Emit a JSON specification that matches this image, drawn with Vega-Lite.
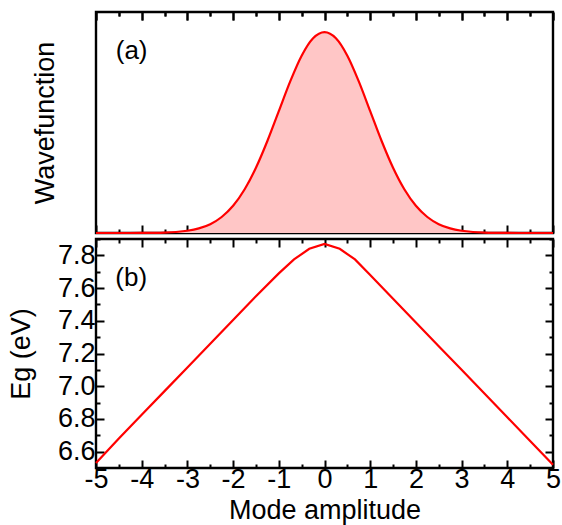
{
  "$schema": "https://vega.github.io/schema/vega-lite/v6.json",
  "padding": {"left": 6, "top": 9, "right": 0, "bottom": 0},
  "spacing": 6,
  "bounds": "flush",
  "config": {
    "view": {"stroke": "black", "strokeWidth": 2.4},
    "font": "Liberation Sans",
    "axis": {
      "domain": false,
      "grid": false,
      "tickColor": "black",
      "tickWidth": 2,
      "labelColor": "black",
      "titleColor": "black",
      "labelFont": "Liberation Sans",
      "titleFont": "Liberation Sans",
      "titleFontWeight": "normal",
      "labelFlush": false,
      "labelOverlap": false
    }
  },
  "datasets": {
    "wave": [
      {"x": -5, "psi": 0.0},
      {"x": -4.5, "psi": 0.00004},
      {"x": -4, "psi": 0.0003},
      {"x": -3.75, "psi": 0.0009},
      {"x": -3.5, "psi": 0.0022},
      {"x": -3.25, "psi": 0.0051},
      {"x": -3, "psi": 0.0111},
      {"x": -2.75, "psi": 0.0228},
      {"x": -2.5, "psi": 0.0439},
      {"x": -2.25, "psi": 0.0796},
      {"x": -2, "psi": 0.1353},
      {"x": -1.75, "psi": 0.2163},
      {"x": -1.5, "psi": 0.3247},
      {"x": -1.25, "psi": 0.4578},
      {"x": -1, "psi": 0.6065},
      {"x": -0.75, "psi": 0.7548},
      {"x": -0.5, "psi": 0.8825},
      {"x": -0.25, "psi": 0.9692},
      {"x": 0, "psi": 1.0},
      {"x": 0.25, "psi": 0.9692},
      {"x": 0.5, "psi": 0.8825},
      {"x": 0.75, "psi": 0.7548},
      {"x": 1, "psi": 0.6065},
      {"x": 1.25, "psi": 0.4578},
      {"x": 1.5, "psi": 0.3247},
      {"x": 1.75, "psi": 0.2163},
      {"x": 2, "psi": 0.1353},
      {"x": 2.25, "psi": 0.0796},
      {"x": 2.5, "psi": 0.0439},
      {"x": 2.75, "psi": 0.0228},
      {"x": 3, "psi": 0.0111},
      {"x": 3.25, "psi": 0.0051},
      {"x": 3.5, "psi": 0.0022},
      {"x": 3.75, "psi": 0.0009},
      {"x": 4, "psi": 0.0003},
      {"x": 4.5, "psi": 0.00004},
      {"x": 5, "psi": 0.0}
    ],
    "eg": [
      {"x": -5, "E": 6.53},
      {"x": -4.5, "E": 6.68},
      {"x": -4, "E": 6.825},
      {"x": -3.5, "E": 6.97},
      {"x": -3, "E": 7.115},
      {"x": -2.5, "E": 7.26},
      {"x": -2, "E": 7.405},
      {"x": -1.5, "E": 7.55},
      {"x": -1, "E": 7.69},
      {"x": -0.667, "E": 7.775},
      {"x": -0.333, "E": 7.84},
      {"x": 0, "E": 7.87},
      {"x": 0.333, "E": 7.84},
      {"x": 0.667, "E": 7.775},
      {"x": 1, "E": 7.68},
      {"x": 1.5, "E": 7.535},
      {"x": 2, "E": 7.39},
      {"x": 2.5, "E": 7.245},
      {"x": 3, "E": 7.1},
      {"x": 3.5, "E": 6.955},
      {"x": 4, "E": 6.81},
      {"x": 4.5, "E": 6.665},
      {"x": 5, "E": 6.52}
    ],
    "labels": [
      {"panel": "a", "x": -4.22, "y": 0.905, "label": "(a)"},
      {"panel": "b", "x": -4.23, "y": 7.66, "label": "(b)"}
    ]
  },
  "vconcat": [
    {
      "width": 457,
      "height": 221,
      "layer": [
        {
          "data": {"name": "wave"},
          "mark": {"type": "area", "color": "#ffc6c6", "interpolate": "monotone"},
          "encoding": {
            "x": {
              "field": "x", "type": "quantitative",
              "scale": {"domain": [-5, 5], "nice": false, "zero": false},
              "axis": {
                "orient": "bottom", "title": null, "labels": false,
                "values": [-5, -4.5, -4, -3.5, -3, -2.5, -2, -1.5, -1, -0.5, 0, 0.5, 1, 1.5, 2, 2.5, 3, 3.5, 4, 4.5, 5],
                "tickSize": {"condition": {"test": "datum.value % 1 === 0", "value": -8}, "value": -4}
              }
            },
            "y": {
              "field": "psi", "type": "quantitative",
              "scale": {"domain": [0, 1.1], "nice": false},
              "axis": {"title": "Wavefunction", "ticks": false, "labels": false, "titleFontSize": 27, "titlePadding": 37}
            }
          }
        },
        {
          "data": {"name": "wave"},
          "mark": {"type": "line", "color": "#ff0000", "strokeWidth": 2.2, "interpolate": "monotone"},
          "encoding": {
            "x": {
              "field": "x", "type": "quantitative",
              "axis": {
                "orient": "top", "title": null, "labels": false,
                "values": [-5, -4.5, -4, -3.5, -3, -2.5, -2, -1.5, -1, -0.5, 0, 0.5, 1, 1.5, 2, 2.5, 3, 3.5, 4, 4.5, 5],
                "tickSize": {"condition": {"test": "datum.value % 1 === 0", "value": -8}, "value": -4}
              }
            },
            "y": {
              "field": "psi", "type": "quantitative",
              "axis": {"title": "Wavefunction", "ticks": false, "labels": false, "titleFontSize": 27, "titlePadding": 37}
            }
          }
        },
        {
          "data": {"name": "labels"},
          "transform": [{"filter": "datum.panel === 'a'"}],
          "mark": {"type": "text", "fontSize": 26, "font": "Liberation Sans", "color": "black"},
          "encoding": {
            "x": {
              "field": "x", "type": "quantitative",
              "axis": {
                "orient": "top", "title": null, "labels": false,
                "values": [-5, -4.5, -4, -3.5, -3, -2.5, -2, -1.5, -1, -0.5, 0, 0.5, 1, 1.5, 2, 2.5, 3, 3.5, 4, 4.5, 5],
                "tickSize": {"condition": {"test": "datum.value % 1 === 0", "value": -8}, "value": -4}
              }
            },
            "y": {
              "field": "y", "type": "quantitative",
              "axis": {"title": "Wavefunction", "ticks": false, "labels": false, "titleFontSize": 27, "titlePadding": 37}
            },
            "text": {"field": "label"}
          }
        }
      ]
    },
    {
      "width": 457,
      "height": 229,
      "layer": [
        {
          "data": {"name": "eg"},
          "mark": {"type": "line", "color": "#ff0000", "strokeWidth": 2.2},
          "encoding": {
            "x": {
              "field": "x", "type": "quantitative",
              "scale": {"domain": [-5, 5], "nice": false, "zero": false},
              "axis": {
                "orient": "bottom", "title": "Mode amplitude", "titleFontSize": 27, "titlePadding": 1,
                "labelFontSize": 27, "labelPadding": 6,
                "values": [-5, -4.5, -4, -3.5, -3, -2.5, -2, -1.5, -1, -0.5, 0, 0.5, 1, 1.5, 2, 2.5, 3, 3.5, 4, 4.5, 5],
                "labelExpr": "datum.value % 1 === 0 ? (datum.value < 0 ? '-' + abs(datum.value) : '' + datum.value) : ''",
                "tickSize": {"condition": {"test": "datum.value % 1 === 0", "value": -8}, "value": -4}
              }
            },
            "y": {
              "field": "E", "type": "quantitative",
              "scale": {"domain": [6.5, 7.9], "nice": false, "zero": false},
              "axis": {
                "orient": "left", "title": "Eg (eV)", "titleFontSize": 27, "titlePadding": 22,
                "labelFontSize": 27, "labelPadding": 9,
                "values": [6.5, 6.6, 6.7, 6.8, 6.9, 7.0, 7.1, 7.2, 7.3, 7.4, 7.5, 7.6, 7.7, 7.8, 7.9],
                "labelExpr": "round(datum.value * 10) % 2 === 0 ? format(datum.value, '.1f') : ''",
                "tickSize": {"condition": {"test": "round(datum.value * 10) % 2 === 0", "value": -8}, "value": -4}
              }
            }
          }
        },
        {
          "data": {"name": "labels"},
          "transform": [{"filter": "datum.panel === 'b'"}],
          "mark": {"type": "text", "fontSize": 26, "font": "Liberation Sans", "color": "black"},
          "encoding": {
            "x": {
              "field": "x", "type": "quantitative",
              "axis": {
                "orient": "top", "title": null, "labels": false,
                "values": [-5, -4.5, -4, -3.5, -3, -2.5, -2, -1.5, -1, -0.5, 0, 0.5, 1, 1.5, 2, 2.5, 3, 3.5, 4, 4.5, 5],
                "tickSize": {"condition": {"test": "datum.value % 1 === 0", "value": -8}, "value": -4}
              }
            },
            "y": {
              "field": "y", "type": "quantitative",
              "axis": {
                "orient": "right", "title": null, "labels": false,
                "values": [6.5, 6.6, 6.7, 6.8, 6.9, 7.0, 7.1, 7.2, 7.3, 7.4, 7.5, 7.6, 7.7, 7.8, 7.9],
                "tickSize": {"condition": {"test": "round(datum.value * 10) % 2 === 0", "value": -8}, "value": -4}
              }
            },
            "text": {"field": "label"}
          }
        }
      ]
    }
  ]
}
